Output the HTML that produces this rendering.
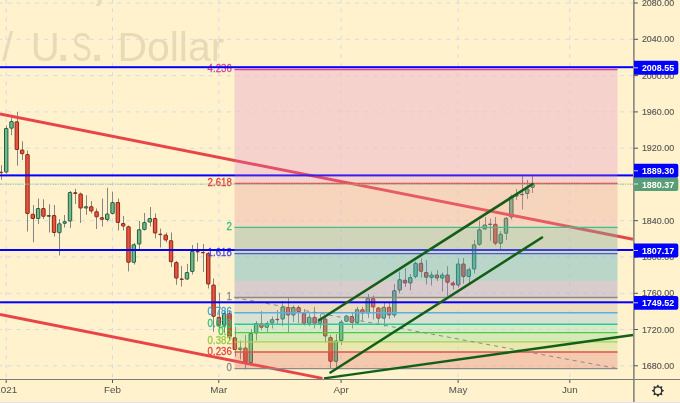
<!DOCTYPE html>
<html><head><meta charset="utf-8"><title>XAUUSD chart</title>
<style>
html,body{margin:0;padding:0;background:#fff2cc;overflow:hidden;}
svg{display:block;will-change:transform;}
text{font-family:"Liberation Sans",Arial,sans-serif;}
</style></head><body>
<svg width="680" height="403" viewBox="0 0 680 403">
<rect width="680" height="403" fill="#fff2cc"/>
<g fill="#e7dbb7" class="wm" font-size="40">
<text x="104.8" y="-1.2" text-anchor="end" font-weight="bold" font-size="44">XAUUSD,</text>
<text x="2" y="61.2">/</text>
<text x="30.8" y="61.2">U</text>
<text x="57.8" y="61.2" font-weight="bold">.</text>
<text x="72" y="61.2" textLength="19.7" lengthAdjust="spacingAndGlyphs">S</text>
<text x="91.6" y="61.2" font-weight="bold">.</text>
<text x="117.4" y="61" textLength="107" lengthAdjust="spacingAndGlyphs">Dollar</text>
</g>
<line x1="0" y1="3.0" x2="633.4" y2="3.0" stroke="#d6d9e6" stroke-width="1" stroke-dasharray="4 5.145" stroke-dashoffset="1.73"/>
<line x1="0" y1="39.3" x2="633.4" y2="39.3" stroke="#d6d9e6" stroke-width="1" stroke-dasharray="4 5.145" stroke-dashoffset="1.73"/>
<line x1="0" y1="75.6" x2="633.4" y2="75.6" stroke="#d6d9e6" stroke-width="1" stroke-dasharray="4 5.145" stroke-dashoffset="1.73"/>
<line x1="0" y1="111.9" x2="633.4" y2="111.9" stroke="#d6d9e6" stroke-width="1" stroke-dasharray="4 5.145" stroke-dashoffset="1.73"/>
<line x1="0" y1="148.2" x2="633.4" y2="148.2" stroke="#d6d9e6" stroke-width="1" stroke-dasharray="4 5.145" stroke-dashoffset="1.73"/>
<line x1="0" y1="184.4" x2="633.4" y2="184.4" stroke="#d6d9e6" stroke-width="1" stroke-dasharray="4 5.145" stroke-dashoffset="1.73"/>
<line x1="0" y1="220.7" x2="633.4" y2="220.7" stroke="#d6d9e6" stroke-width="1" stroke-dasharray="4 5.145" stroke-dashoffset="1.73"/>
<line x1="0" y1="257.0" x2="633.4" y2="257.0" stroke="#d6d9e6" stroke-width="1" stroke-dasharray="4 5.145" stroke-dashoffset="1.73"/>
<line x1="0" y1="293.3" x2="633.4" y2="293.3" stroke="#d6d9e6" stroke-width="1" stroke-dasharray="4 5.145" stroke-dashoffset="1.73"/>
<line x1="0" y1="329.5" x2="633.4" y2="329.5" stroke="#d6d9e6" stroke-width="1" stroke-dasharray="4 5.145" stroke-dashoffset="1.73"/>
<line x1="0" y1="365.8" x2="633.4" y2="365.8" stroke="#d6d9e6" stroke-width="1" stroke-dasharray="4 5.145" stroke-dashoffset="1.73"/>
<line x1="6.2" y1="0" x2="6.2" y2="379.0" stroke="#d6d9e6" stroke-width="1" stroke-dasharray="4 5.13" stroke-dashoffset="0.76"/>
<line x1="112.5" y1="0" x2="112.5" y2="379.0" stroke="#d6d9e6" stroke-width="1" stroke-dasharray="4 5.13" stroke-dashoffset="0.76"/>
<line x1="218.8" y1="0" x2="218.8" y2="379.0" stroke="#d6d9e6" stroke-width="1" stroke-dasharray="4 5.13" stroke-dashoffset="0.76"/>
<line x1="341.1" y1="0" x2="341.1" y2="379.0" stroke="#d6d9e6" stroke-width="1" stroke-dasharray="4 5.13" stroke-dashoffset="0.76"/>
<line x1="458.1" y1="0" x2="458.1" y2="379.0" stroke="#d6d9e6" stroke-width="1" stroke-dasharray="4 5.13" stroke-dashoffset="0.76"/>
<line x1="569.8" y1="0" x2="569.8" y2="379.0" stroke="#d6d9e6" stroke-width="1" stroke-dasharray="4 5.13" stroke-dashoffset="0.76"/>
<rect x="234.5" y="69.5" width="383" height="114" fill="#fff2cc" opacity="0.55"/>
<rect x="234.5" y="183.5" width="383" height="185.1" fill="#fff2cc" opacity="0.3"/>
<rect x="1.00" y="165.2" width="1" height="14.5" fill="#878583"/>
<rect x="-0.82" y="172.2" width="3.4" height="0.4" rx="0.4" fill="#e8553e" stroke="#8a2516" stroke-width="1"/>
<rect x="6.00" y="125.6" width="1" height="47.9" fill="#878583"/>
<rect x="4.50" y="128.5" width="3.4" height="43.5" rx="0.4" fill="#6fb88e" stroke="#22603d" stroke-width="1"/>
<rect x="11.00" y="118.0" width="1" height="17.2" fill="#878583"/>
<rect x="9.82" y="121.5" width="3.4" height="6.7" rx="0.4" fill="#6fb88e" stroke="#22603d" stroke-width="1"/>
<rect x="17.00" y="112.0" width="1" height="53.8" fill="#878583"/>
<rect x="15.13" y="121.8" width="3.4" height="27.7" rx="0.4" fill="#e8553e" stroke="#8a2516" stroke-width="1"/>
<rect x="22.00" y="141.2" width="1" height="18.8" fill="#878583"/>
<rect x="20.45" y="150.0" width="3.4" height="3.7" rx="0.4" fill="#e8553e" stroke="#8a2516" stroke-width="1"/>
<rect x="27.00" y="150.5" width="1" height="81.0" fill="#878583"/>
<rect x="25.77" y="154.5" width="3.4" height="59.0" rx="0.4" fill="#e8553e" stroke="#8a2516" stroke-width="1"/>
<rect x="33.00" y="205.0" width="1" height="37.2" fill="#878583"/>
<rect x="31.09" y="214.3" width="3.4" height="4.2" rx="0.4" fill="#e8553e" stroke="#8a2516" stroke-width="1"/>
<rect x="38.00" y="198.5" width="1" height="25.5" fill="#878583"/>
<rect x="36.40" y="208.5" width="3.4" height="10.0" rx="0.4" fill="#6fb88e" stroke="#22603d" stroke-width="1"/>
<rect x="43.00" y="199.3" width="1" height="19.7" fill="#878583"/>
<rect x="41.72" y="208.5" width="3.4" height="7.8" rx="0.4" fill="#e8553e" stroke="#8a2516" stroke-width="1"/>
<rect x="49.00" y="204.2" width="1" height="28.3" fill="#878583"/>
<rect x="47.04" y="215.5" width="3.4" height="0.8" rx="0.4" fill="#6fb88e" stroke="#22603d" stroke-width="1"/>
<rect x="54.00" y="205.0" width="1" height="31.5" fill="#878583"/>
<rect x="52.35" y="215.5" width="3.4" height="17.0" rx="0.4" fill="#e8553e" stroke="#8a2516" stroke-width="1"/>
<rect x="59.00" y="219.0" width="1" height="36.5" fill="#878583"/>
<rect x="57.67" y="223.8" width="3.4" height="8.9" rx="0.4" fill="#6fb88e" stroke="#22603d" stroke-width="1"/>
<rect x="64.00" y="215.0" width="1" height="12.5" fill="#878583"/>
<rect x="62.99" y="221.7" width="3.4" height="1.6" rx="0.4" fill="#6fb88e" stroke="#22603d" stroke-width="1"/>
<rect x="70.00" y="191.0" width="1" height="37.0" fill="#878583"/>
<rect x="68.30" y="192.5" width="3.4" height="28.5" rx="0.4" fill="#6fb88e" stroke="#22603d" stroke-width="1"/>
<rect x="75.00" y="188.8" width="1" height="15.2" fill="#878583"/>
<rect x="73.62" y="192.7" width="3.4" height="0.8" rx="0.4" fill="#e8553e" stroke="#8a2516" stroke-width="1"/>
<rect x="80.00" y="192.5" width="1" height="30.5" fill="#878583"/>
<rect x="78.94" y="194.0" width="3.4" height="14.0" rx="0.4" fill="#e8553e" stroke="#8a2516" stroke-width="1"/>
<rect x="86.00" y="195.2" width="1" height="19.6" fill="#878583"/>
<rect x="84.25" y="206.7" width="3.4" height="1.3" rx="0.4" fill="#6fb88e" stroke="#22603d" stroke-width="1"/>
<rect x="91.00" y="201.0" width="1" height="12.3" fill="#878583"/>
<rect x="89.57" y="206.7" width="3.4" height="4.3" rx="0.4" fill="#e8553e" stroke="#8a2516" stroke-width="1"/>
<rect x="96.00" y="208.5" width="1" height="20.5" fill="#878583"/>
<rect x="94.89" y="211.7" width="3.4" height="5.1" rx="0.4" fill="#e8553e" stroke="#8a2516" stroke-width="1"/>
<rect x="102.00" y="198.5" width="1" height="28.0" fill="#878583"/>
<rect x="100.21" y="217.7" width="3.4" height="1.6" rx="0.4" fill="#e8553e" stroke="#8a2516" stroke-width="1"/>
<rect x="107.00" y="187.8" width="1" height="33.7" fill="#878583"/>
<rect x="105.52" y="214.0" width="3.4" height="5.5" rx="0.4" fill="#6fb88e" stroke="#22603d" stroke-width="1"/>
<rect x="112.00" y="191.8" width="1" height="22.7" fill="#878583"/>
<rect x="110.84" y="202.5" width="3.4" height="11.0" rx="0.4" fill="#6fb88e" stroke="#22603d" stroke-width="1"/>
<rect x="118.00" y="198.5" width="1" height="32.0" fill="#878583"/>
<rect x="116.16" y="202.5" width="3.4" height="20.0" rx="0.4" fill="#e8553e" stroke="#8a2516" stroke-width="1"/>
<rect x="123.00" y="216.0" width="1" height="14.5" fill="#878583"/>
<rect x="121.47" y="223.5" width="3.4" height="2.5" rx="0.4" fill="#e8553e" stroke="#8a2516" stroke-width="1"/>
<rect x="128.00" y="225.5" width="1" height="46.0" fill="#878583"/>
<rect x="126.79" y="226.7" width="3.4" height="35.6" rx="0.4" fill="#e8553e" stroke="#8a2516" stroke-width="1"/>
<rect x="134.00" y="243.0" width="1" height="21.5" fill="#878583"/>
<rect x="132.11" y="244.7" width="3.4" height="17.6" rx="0.4" fill="#6fb88e" stroke="#22603d" stroke-width="1"/>
<rect x="139.00" y="221.0" width="1" height="28.0" fill="#878583"/>
<rect x="137.43" y="229.7" width="3.4" height="14.3" rx="0.4" fill="#6fb88e" stroke="#22603d" stroke-width="1"/>
<rect x="144.00" y="213.0" width="1" height="17.5" fill="#878583"/>
<rect x="142.74" y="222.5" width="3.4" height="7.0" rx="0.4" fill="#6fb88e" stroke="#22603d" stroke-width="1"/>
<rect x="150.00" y="207.0" width="1" height="19.5" fill="#878583"/>
<rect x="148.06" y="218.5" width="3.4" height="3.5" rx="0.4" fill="#6fb88e" stroke="#22603d" stroke-width="1"/>
<rect x="155.00" y="213.5" width="1" height="25.0" fill="#878583"/>
<rect x="153.38" y="218.5" width="3.4" height="14.5" rx="0.4" fill="#e8553e" stroke="#8a2516" stroke-width="1"/>
<rect x="160.00" y="228.5" width="1" height="19.0" fill="#878583"/>
<rect x="158.69" y="234.2" width="3.4" height="0.4" rx="0.4" fill="#e8553e" stroke="#8a2516" stroke-width="1"/>
<rect x="166.00" y="232.5" width="1" height="10.0" fill="#878583"/>
<rect x="164.01" y="235.0" width="3.4" height="5.0" rx="0.4" fill="#e8553e" stroke="#8a2516" stroke-width="1"/>
<rect x="171.00" y="232.5" width="1" height="34.5" fill="#878583"/>
<rect x="169.33" y="240.7" width="3.4" height="21.0" rx="0.4" fill="#e8553e" stroke="#8a2516" stroke-width="1"/>
<rect x="176.00" y="261.0" width="1" height="23.8" fill="#878583"/>
<rect x="174.64" y="262.5" width="3.4" height="15.6" rx="0.4" fill="#e8553e" stroke="#8a2516" stroke-width="1"/>
<rect x="181.00" y="266.0" width="1" height="20.5" fill="#878583"/>
<rect x="179.96" y="279.0" width="3.4" height="0.4" rx="0.4" fill="#e8553e" stroke="#8a2516" stroke-width="1"/>
<rect x="187.00" y="264.0" width="1" height="16.0" fill="#878583"/>
<rect x="185.28" y="272.5" width="3.4" height="6.5" rx="0.4" fill="#6fb88e" stroke="#22603d" stroke-width="1"/>
<rect x="192.00" y="245.0" width="1" height="29.5" fill="#878583"/>
<rect x="190.59" y="251.5" width="3.4" height="20.0" rx="0.4" fill="#6fb88e" stroke="#22603d" stroke-width="1"/>
<rect x="197.00" y="242.8" width="1" height="18.7" fill="#878583"/>
<rect x="195.91" y="251.5" width="3.4" height="0.4" rx="0.4" fill="#e8553e" stroke="#8a2516" stroke-width="1"/>
<rect x="203.00" y="244.0" width="1" height="28.0" fill="#878583"/>
<rect x="201.23" y="252.4" width="3.4" height="0.4" rx="0.4" fill="#e8553e" stroke="#8a2516" stroke-width="1"/>
<rect x="208.00" y="252.0" width="1" height="36.5" fill="#878583"/>
<rect x="206.55" y="253.5" width="3.4" height="30.5" rx="0.4" fill="#e8553e" stroke="#8a2516" stroke-width="1"/>
<rect x="213.00" y="278.5" width="1" height="53.2" fill="#878583"/>
<rect x="211.86" y="285.0" width="3.4" height="31.3" rx="0.4" fill="#e8553e" stroke="#8a2516" stroke-width="1"/>
<rect x="219.00" y="293.0" width="1" height="35.0" fill="#878583"/>
<rect x="217.18" y="317.3" width="3.4" height="7.9" rx="0.4" fill="#e8553e" stroke="#8a2516" stroke-width="1"/>
<rect x="224.00" y="311.0" width="1" height="22.0" fill="#878583"/>
<rect x="222.50" y="313.5" width="3.4" height="11.7" rx="0.4" fill="#6fb88e" stroke="#22603d" stroke-width="1"/>
<rect x="229.00" y="311.0" width="1" height="29.0" fill="#878583"/>
<rect x="227.81" y="313.5" width="3.4" height="23.3" rx="0.4" fill="#e8553e" stroke="#8a2516" stroke-width="1"/>
<rect x="235.00" y="326.5" width="1" height="30.0" fill="#878583"/>
<rect x="233.13" y="337.8" width="3.4" height="11.7" rx="0.4" fill="#e8553e" stroke="#8a2516" stroke-width="1"/>
<rect x="240.00" y="340.5" width="1" height="19.0" fill="#878583"/>
<rect x="238.45" y="348.0" width="3.4" height="1.5" rx="0.4" fill="#6fb88e" stroke="#22603d" stroke-width="1"/>
<rect x="245.00" y="335.0" width="1" height="34.5" fill="#878583"/>
<rect x="243.77" y="348.0" width="3.4" height="14.0" rx="0.4" fill="#e8553e" stroke="#8a2516" stroke-width="1"/>
<rect x="251.00" y="329.0" width="1" height="35.0" fill="#878583"/>
<rect x="249.08" y="333.5" width="3.4" height="29.0" rx="0.4" fill="#6fb88e" stroke="#22603d" stroke-width="1"/>
<rect x="256.00" y="321.0" width="1" height="19.5" fill="#878583"/>
<rect x="254.40" y="323.5" width="3.4" height="9.5" rx="0.4" fill="#6fb88e" stroke="#22603d" stroke-width="1"/>
<rect x="261.00" y="311.0" width="1" height="19.5" fill="#878583"/>
<rect x="259.72" y="323.7" width="3.4" height="3.6" rx="0.4" fill="#e8553e" stroke="#8a2516" stroke-width="1"/>
<rect x="267.00" y="321.0" width="1" height="12.0" fill="#878583"/>
<rect x="265.03" y="323.5" width="3.4" height="3.8" rx="0.4" fill="#6fb88e" stroke="#22603d" stroke-width="1"/>
<rect x="272.00" y="316.5" width="1" height="12.0" fill="#878583"/>
<rect x="270.35" y="319.7" width="3.4" height="3.3" rx="0.4" fill="#6fb88e" stroke="#22603d" stroke-width="1"/>
<rect x="277.00" y="310.0" width="1" height="14.0" fill="#878583"/>
<rect x="275.67" y="319.3" width="3.4" height="0.4" rx="0.4" fill="#e8553e" stroke="#8a2516" stroke-width="1"/>
<rect x="282.00" y="301.0" width="1" height="25.0" fill="#878583"/>
<rect x="280.98" y="307.0" width="3.4" height="12.0" rx="0.4" fill="#6fb88e" stroke="#22603d" stroke-width="1"/>
<rect x="288.00" y="298.0" width="1" height="35.0" fill="#878583"/>
<rect x="286.30" y="307.5" width="3.4" height="7.5" rx="0.4" fill="#e8553e" stroke="#8a2516" stroke-width="1"/>
<rect x="293.00" y="305.5" width="1" height="16.5" fill="#878583"/>
<rect x="291.62" y="307.5" width="3.4" height="7.5" rx="0.4" fill="#6fb88e" stroke="#22603d" stroke-width="1"/>
<rect x="298.00" y="305.5" width="1" height="17.5" fill="#878583"/>
<rect x="296.94" y="307.5" width="3.4" height="4.2" rx="0.4" fill="#e8553e" stroke="#8a2516" stroke-width="1"/>
<rect x="304.00" y="309.0" width="1" height="16.5" fill="#878583"/>
<rect x="302.25" y="313.5" width="3.4" height="9.8" rx="0.4" fill="#e8553e" stroke="#8a2516" stroke-width="1"/>
<rect x="309.00" y="313.5" width="1" height="12.7" fill="#878583"/>
<rect x="307.57" y="317.3" width="3.4" height="6.0" rx="0.4" fill="#6fb88e" stroke="#22603d" stroke-width="1"/>
<rect x="314.00" y="306.8" width="1" height="21.7" fill="#878583"/>
<rect x="312.89" y="317.3" width="3.4" height="6.0" rx="0.4" fill="#e8553e" stroke="#8a2516" stroke-width="1"/>
<rect x="320.00" y="314.0" width="1" height="14.5" fill="#878583"/>
<rect x="318.20" y="319.0" width="3.4" height="4.3" rx="0.4" fill="#6fb88e" stroke="#22603d" stroke-width="1"/>
<rect x="325.00" y="317.0" width="1" height="25.5" fill="#878583"/>
<rect x="323.52" y="319.0" width="3.4" height="17.0" rx="0.4" fill="#e8553e" stroke="#8a2516" stroke-width="1"/>
<rect x="330.00" y="335.0" width="1" height="33.0" fill="#878583"/>
<rect x="328.84" y="337.5" width="3.4" height="23.8" rx="0.4" fill="#e8553e" stroke="#8a2516" stroke-width="1"/>
<rect x="336.00" y="334.0" width="1" height="33.8" fill="#878583"/>
<rect x="334.15" y="341.0" width="3.4" height="20.3" rx="0.4" fill="#6fb88e" stroke="#22603d" stroke-width="1"/>
<rect x="341.00" y="320.0" width="1" height="25.0" fill="#878583"/>
<rect x="339.47" y="322.0" width="3.4" height="18.5" rx="0.4" fill="#6fb88e" stroke="#22603d" stroke-width="1"/>
<rect x="346.00" y="315.0" width="1" height="7.0" fill="#878583"/>
<rect x="344.79" y="316.0" width="3.4" height="5.3" rx="0.4" fill="#6fb88e" stroke="#22603d" stroke-width="1"/>
<rect x="352.00" y="313.0" width="1" height="15.5" fill="#878583"/>
<rect x="350.11" y="316.5" width="3.4" height="5.8" rx="0.4" fill="#e8553e" stroke="#8a2516" stroke-width="1"/>
<rect x="357.00" y="306.8" width="1" height="17.2" fill="#878583"/>
<rect x="355.42" y="309.7" width="3.4" height="13.0" rx="0.4" fill="#6fb88e" stroke="#22603d" stroke-width="1"/>
<rect x="362.00" y="306.8" width="1" height="14.2" fill="#878583"/>
<rect x="360.74" y="309.7" width="3.4" height="3.3" rx="0.4" fill="#e8553e" stroke="#8a2516" stroke-width="1"/>
<rect x="368.00" y="294.0" width="1" height="24.0" fill="#878583"/>
<rect x="366.06" y="298.5" width="3.4" height="14.5" rx="0.4" fill="#6fb88e" stroke="#22603d" stroke-width="1"/>
<rect x="373.00" y="295.5" width="1" height="24.0" fill="#878583"/>
<rect x="371.37" y="298.5" width="3.4" height="8.5" rx="0.4" fill="#e8553e" stroke="#8a2516" stroke-width="1"/>
<rect x="378.00" y="307.0" width="1" height="16.0" fill="#878583"/>
<rect x="376.69" y="308.0" width="3.4" height="10.2" rx="0.4" fill="#e8553e" stroke="#8a2516" stroke-width="1"/>
<rect x="384.00" y="303.0" width="1" height="23.5" fill="#878583"/>
<rect x="382.01" y="307.3" width="3.4" height="10.9" rx="0.4" fill="#6fb88e" stroke="#22603d" stroke-width="1"/>
<rect x="389.00" y="303.0" width="1" height="16.0" fill="#878583"/>
<rect x="387.32" y="307.3" width="3.4" height="7.7" rx="0.4" fill="#e8553e" stroke="#8a2516" stroke-width="1"/>
<rect x="394.00" y="284.0" width="1" height="33.5" fill="#878583"/>
<rect x="392.64" y="290.7" width="3.4" height="24.3" rx="0.4" fill="#6fb88e" stroke="#22603d" stroke-width="1"/>
<rect x="399.00" y="271.5" width="1" height="22.0" fill="#878583"/>
<rect x="397.96" y="279.7" width="3.4" height="10.3" rx="0.4" fill="#6fb88e" stroke="#22603d" stroke-width="1"/>
<rect x="405.00" y="268.0" width="1" height="19.0" fill="#878583"/>
<rect x="403.28" y="280.3" width="3.4" height="2.7" rx="0.4" fill="#e8553e" stroke="#8a2516" stroke-width="1"/>
<rect x="410.00" y="274.0" width="1" height="16.5" fill="#878583"/>
<rect x="408.59" y="277.5" width="3.4" height="5.5" rx="0.4" fill="#6fb88e" stroke="#22603d" stroke-width="1"/>
<rect x="415.00" y="261.5" width="1" height="17.0" fill="#878583"/>
<rect x="413.91" y="263.3" width="3.4" height="13.2" rx="0.4" fill="#6fb88e" stroke="#22603d" stroke-width="1"/>
<rect x="421.00" y="258.5" width="1" height="19.0" fill="#878583"/>
<rect x="419.23" y="263.3" width="3.4" height="8.0" rx="0.4" fill="#e8553e" stroke="#8a2516" stroke-width="1"/>
<rect x="426.00" y="260.0" width="1" height="24.5" fill="#878583"/>
<rect x="424.54" y="272.5" width="3.4" height="4.7" rx="0.4" fill="#e8553e" stroke="#8a2516" stroke-width="1"/>
<rect x="431.00" y="271.5" width="1" height="14.0" fill="#878583"/>
<rect x="429.86" y="275.0" width="3.4" height="2.5" rx="0.4" fill="#6fb88e" stroke="#22603d" stroke-width="1"/>
<rect x="437.00" y="270.0" width="1" height="11.0" fill="#878583"/>
<rect x="435.18" y="275.0" width="3.4" height="3.0" rx="0.4" fill="#e8553e" stroke="#8a2516" stroke-width="1"/>
<rect x="442.00" y="272.5" width="1" height="19.0" fill="#878583"/>
<rect x="440.49" y="275.0" width="3.4" height="3.0" rx="0.4" fill="#6fb88e" stroke="#22603d" stroke-width="1"/>
<rect x="447.00" y="266.2" width="1" height="29.8" fill="#878583"/>
<rect x="445.81" y="275.0" width="3.4" height="7.3" rx="0.4" fill="#e8553e" stroke="#8a2516" stroke-width="1"/>
<rect x="453.00" y="281.0" width="1" height="8.5" fill="#878583"/>
<rect x="451.13" y="283.0" width="3.4" height="2.0" rx="0.4" fill="#e8553e" stroke="#8a2516" stroke-width="1"/>
<rect x="458.00" y="258.5" width="1" height="29.0" fill="#878583"/>
<rect x="456.44" y="264.0" width="3.4" height="21.0" rx="0.4" fill="#6fb88e" stroke="#22603d" stroke-width="1"/>
<rect x="463.00" y="258.0" width="1" height="25.5" fill="#878583"/>
<rect x="461.76" y="264.0" width="3.4" height="12.5" rx="0.4" fill="#e8553e" stroke="#8a2516" stroke-width="1"/>
<rect x="469.00" y="267.5" width="1" height="15.5" fill="#878583"/>
<rect x="467.08" y="269.7" width="3.4" height="6.8" rx="0.4" fill="#6fb88e" stroke="#22603d" stroke-width="1"/>
<rect x="474.00" y="240.0" width="1" height="33.5" fill="#878583"/>
<rect x="472.40" y="244.8" width="3.4" height="24.2" rx="0.4" fill="#6fb88e" stroke="#22603d" stroke-width="1"/>
<rect x="479.00" y="220.5" width="1" height="25.3" fill="#878583"/>
<rect x="477.71" y="229.7" width="3.4" height="14.6" rx="0.4" fill="#6fb88e" stroke="#22603d" stroke-width="1"/>
<rect x="485.00" y="217.0" width="1" height="12.5" fill="#878583"/>
<rect x="483.03" y="225.0" width="3.4" height="4.0" rx="0.4" fill="#6fb88e" stroke="#22603d" stroke-width="1"/>
<rect x="490.00" y="218.5" width="1" height="22.2" fill="#878583"/>
<rect x="488.35" y="224.1" width="3.4" height="0.4" rx="0.4" fill="#6fb88e" stroke="#22603d" stroke-width="1"/>
<rect x="495.00" y="217.0" width="1" height="28.3" fill="#878583"/>
<rect x="493.66" y="224.3" width="3.4" height="18.9" rx="0.4" fill="#e8553e" stroke="#8a2516" stroke-width="1"/>
<rect x="500.00" y="231.0" width="1" height="18.0" fill="#878583"/>
<rect x="498.98" y="234.2" width="3.4" height="9.1" rx="0.4" fill="#6fb88e" stroke="#22603d" stroke-width="1"/>
<rect x="506.00" y="217.0" width="1" height="23.0" fill="#878583"/>
<rect x="504.30" y="218.3" width="3.4" height="14.9" rx="0.4" fill="#6fb88e" stroke="#22603d" stroke-width="1"/>
<rect x="511.00" y="194.5" width="1" height="25.0" fill="#878583"/>
<rect x="509.62" y="196.7" width="3.4" height="20.3" rx="0.4" fill="#6fb88e" stroke="#22603d" stroke-width="1"/>
<rect x="516.00" y="189.0" width="1" height="11.0" fill="#878583"/>
<rect x="514.93" y="195.5" width="3.4" height="0.5" rx="0.4" fill="#6fb88e" stroke="#22603d" stroke-width="1"/>
<rect x="522.00" y="176.0" width="1" height="33.5" fill="#878583"/>
<rect x="520.25" y="194.3" width="3.4" height="0.4" rx="0.4" fill="#6fb88e" stroke="#22603d" stroke-width="1"/>
<rect x="527.00" y="180.0" width="1" height="19.0" fill="#878583"/>
<rect x="525.57" y="189.0" width="3.4" height="4.5" rx="0.4" fill="#6fb88e" stroke="#22603d" stroke-width="1"/>
<rect x="532.00" y="176.0" width="1" height="17.0" fill="#878583"/>
<rect x="530.88" y="184.5" width="3.4" height="2.8" rx="0.4" fill="#6fb88e" stroke="#22603d" stroke-width="1"/>
<text x="231.8" y="72.0" fill="#d63f9c" stroke="#d63f9c" stroke-width="0.28" font-size="10.8" text-anchor="end" textLength="24.20" lengthAdjust="spacingAndGlyphs" class="lbl">4.236</text>
<text x="231.8" y="186.0" fill="#e03a3a" stroke="#e03a3a" stroke-width="0.28" font-size="10.8" text-anchor="end" textLength="24.20" lengthAdjust="spacingAndGlyphs" class="lbl">2.618</text>
<text x="231.8" y="229.9" fill="#2fb882" stroke="#2fb882" stroke-width="0.28" font-size="10.8" text-anchor="end" textLength="5.38" lengthAdjust="spacingAndGlyphs" class="lbl">2</text>
<text x="231.8" y="256.1" fill="#4a4ad8" stroke="#4a4ad8" stroke-width="0.28" font-size="10.8" text-anchor="end" textLength="24.20" lengthAdjust="spacingAndGlyphs" class="lbl">1.618</text>
<text x="231.8" y="300.0" fill="#8a8a8a" stroke="#8a8a8a" stroke-width="0.28" font-size="10.8" text-anchor="end" textLength="5.38" lengthAdjust="spacingAndGlyphs" class="lbl">1</text>
<text x="231.8" y="315.2" fill="#3a9fdc" stroke="#3a9fdc" stroke-width="0.28" font-size="10.8" text-anchor="end" textLength="24.20" lengthAdjust="spacingAndGlyphs" class="lbl">0.786</text>
<text x="231.8" y="326.8" fill="#22c08c" stroke="#22c08c" stroke-width="0.28" font-size="10.8" text-anchor="end" textLength="24.20" lengthAdjust="spacingAndGlyphs" class="lbl">0.618</text>
<text x="231.8" y="335.1" fill="#2ec82e" stroke="#2ec82e" stroke-width="0.28" font-size="10.8" text-anchor="end" textLength="13.44" lengthAdjust="spacingAndGlyphs" class="lbl">0.5</text>
<text x="231.8" y="344.4" fill="#98c840" stroke="#98c840" stroke-width="0.28" font-size="10.8" text-anchor="end" textLength="24.20" lengthAdjust="spacingAndGlyphs" class="lbl">0.382</text>
<text x="231.8" y="354.5" fill="#e04040" stroke="#e04040" stroke-width="0.28" font-size="10.8" text-anchor="end" textLength="24.20" lengthAdjust="spacingAndGlyphs" class="lbl">0.236</text>
<text x="231.8" y="371.1" fill="#8a8a8a" stroke="#8a8a8a" stroke-width="0.28" font-size="10.8" text-anchor="end" textLength="5.38" lengthAdjust="spacingAndGlyphs" class="lbl">0</text>
<line x1="0" y1="114" x2="633" y2="239.3" stroke="#e94549" stroke-width="3"/>
<line x1="0" y1="314.5" x2="322.5" y2="378.4" stroke="#e94549" stroke-width="3"/>
<rect x="0" y="174.4" width="633" height="2" fill="#0000ff"/>
<rect x="0" y="249.0" width="633" height="2" fill="#0000ff"/>
<rect x="234.5" y="69.5" width="383.0" height="114.0" fill="rgba(215,114,200,0.25)"/>
<rect x="234.5" y="183.5" width="383.0" height="43.9" fill="rgba(228,145,154,0.30)"/>
<rect x="234.5" y="227.4" width="383.0" height="26.2" fill="rgba(138,167,154,0.40)"/>
<rect x="234.5" y="253.6" width="383.0" height="27.2" fill="rgba(80,172,194,0.40)"/>
<rect x="234.5" y="280.8" width="383.0" height="16.7" fill="rgba(144,136,204,0.35)"/>
<rect x="234.5" y="297.5" width="383.0" height="15.2" fill="rgba(192,169,164,0.30)"/>
<rect x="234.5" y="312.7" width="383.0" height="11.6" fill="rgba(128,189,224,0.30)"/>
<rect x="234.5" y="324.3" width="383.0" height="8.3" fill="rgba(115,219,191,0.30)"/>
<rect x="234.5" y="332.6" width="383.0" height="9.3" fill="rgba(118,215,137,0.30)"/>
<rect x="234.5" y="341.9" width="383.0" height="10.1" fill="rgba(182,209,117,0.30)"/>
<rect x="234.5" y="352.0" width="383.0" height="16.6" fill="rgba(222,105,104,0.30)"/>
<line x1="234.5" y1="69.5" x2="617.5" y2="69.5" stroke="#e0409a" stroke-width="1.4"/>
<line x1="234.5" y1="183.5" x2="617.5" y2="183.5" stroke="#e04848" stroke-width="1.4"/>
<line x1="234.5" y1="227.4" x2="617.5" y2="227.4" stroke="#40c090" stroke-width="1.4"/>
<line x1="234.5" y1="253.6" x2="617.5" y2="253.6" stroke="#4a5ad8" stroke-width="1.4"/>
<line x1="234.5" y1="297.5" x2="617.5" y2="297.5" stroke="#8a8a8a" stroke-width="1.4"/>
<line x1="234.5" y1="312.7" x2="617.5" y2="312.7" stroke="#5aaee0" stroke-width="1.4"/>
<line x1="234.5" y1="324.3" x2="617.5" y2="324.3" stroke="#30c890" stroke-width="1.4"/>
<line x1="234.5" y1="332.6" x2="617.5" y2="332.6" stroke="#50c848" stroke-width="1.4"/>
<line x1="234.5" y1="341.9" x2="617.5" y2="341.9" stroke="#a8d050" stroke-width="1.4"/>
<line x1="234.5" y1="352.0" x2="617.5" y2="352.0" stroke="#e05050" stroke-width="1.4"/>
<line x1="234.5" y1="368.6" x2="617.5" y2="368.6" stroke="#8a8a8a" stroke-width="1.4"/>
<line x1="234.5" y1="297.5" x2="617.5" y2="368.6" stroke="#8a8a8a" stroke-width="1" stroke-dasharray="4 4"/>
<rect x="0" y="66.2" width="633" height="2" fill="#0000ff"/>
<rect x="0" y="301.3" width="633" height="2" fill="#0000ff"/>
<line x1="0" y1="184.1" x2="633.5" y2="184.1" stroke="#98c6a2" stroke-width="1.2" stroke-dasharray="1.25 1.25"/>
<line x1="319.5" y1="320" x2="532.5" y2="184" stroke="#135f17" stroke-width="2.6" stroke-linecap="round"/>
<line x1="330.5" y1="372.5" x2="542" y2="237.5" stroke="#135f17" stroke-width="2.6" stroke-linecap="round"/>
<line x1="324" y1="378.3" x2="633" y2="335.0" stroke="#135f17" stroke-width="2.3"/>
<rect x="633" y="0" width="47" height="403" fill="#fff2cc"/>
<rect x="0" y="379" width="680" height="24" fill="#fff2cc"/>
<line x1="633.9" y1="0" x2="633.9" y2="403" stroke="#6c6c6c" stroke-width="1.3"/>
<line x1="0" y1="379.5" x2="680" y2="379.5" stroke="#7b7b7b" stroke-width="1"/>
<rect x="0" y="402" width="680" height="1" fill="#e3e3e3"/>
<line x1="634" y1="3.0" x2="638" y2="3.0" stroke="#555" stroke-width="1"/>
<text x="641.9" y="6.0" fill="#585858" stroke="#585858" stroke-width="0.15" font-size="9.7" textLength="32.3" lengthAdjust="spacingAndGlyphs" class="ax">2080.00</text>
<line x1="634" y1="39.3" x2="638" y2="39.3" stroke="#555" stroke-width="1"/>
<text x="641.9" y="42.3" fill="#585858" stroke="#585858" stroke-width="0.15" font-size="9.7" textLength="32.3" lengthAdjust="spacingAndGlyphs" class="ax">2040.00</text>
<line x1="634" y1="75.6" x2="638" y2="75.6" stroke="#555" stroke-width="1"/>
<text x="641.9" y="78.6" fill="#585858" stroke="#585858" stroke-width="0.15" font-size="9.7" textLength="32.3" lengthAdjust="spacingAndGlyphs" class="ax">2000.00</text>
<line x1="634" y1="111.9" x2="638" y2="111.9" stroke="#555" stroke-width="1"/>
<text x="641.9" y="115.0" fill="#585858" stroke="#585858" stroke-width="0.15" font-size="9.7" textLength="32.3" lengthAdjust="spacingAndGlyphs" class="ax">1960.00</text>
<line x1="634" y1="148.2" x2="638" y2="148.2" stroke="#555" stroke-width="1"/>
<text x="641.9" y="151.2" fill="#585858" stroke="#585858" stroke-width="0.15" font-size="9.7" textLength="32.3" lengthAdjust="spacingAndGlyphs" class="ax">1920.00</text>
<line x1="634" y1="184.4" x2="638" y2="184.4" stroke="#555" stroke-width="1"/>
<text x="641.9" y="187.5" fill="#585858" stroke="#585858" stroke-width="0.15" font-size="9.7" textLength="32.3" lengthAdjust="spacingAndGlyphs" class="ax">1880.00</text>
<line x1="634" y1="220.7" x2="638" y2="220.7" stroke="#555" stroke-width="1"/>
<text x="641.9" y="223.8" fill="#585858" stroke="#585858" stroke-width="0.15" font-size="9.7" textLength="32.3" lengthAdjust="spacingAndGlyphs" class="ax">1840.00</text>
<line x1="634" y1="257.0" x2="638" y2="257.0" stroke="#555" stroke-width="1"/>
<text x="641.9" y="260.1" fill="#585858" stroke="#585858" stroke-width="0.15" font-size="9.7" textLength="32.3" lengthAdjust="spacingAndGlyphs" class="ax">1800.00</text>
<line x1="634" y1="293.3" x2="638" y2="293.3" stroke="#555" stroke-width="1"/>
<text x="641.9" y="296.4" fill="#585858" stroke="#585858" stroke-width="0.15" font-size="9.7" textLength="32.3" lengthAdjust="spacingAndGlyphs" class="ax">1760.00</text>
<line x1="634" y1="329.5" x2="638" y2="329.5" stroke="#555" stroke-width="1"/>
<text x="641.9" y="332.6" fill="#585858" stroke="#585858" stroke-width="0.15" font-size="9.7" textLength="32.3" lengthAdjust="spacingAndGlyphs" class="ax">1720.00</text>
<line x1="634" y1="365.8" x2="638" y2="365.8" stroke="#555" stroke-width="1"/>
<text x="641.9" y="368.9" fill="#585858" stroke="#585858" stroke-width="0.15" font-size="9.7" textLength="32.3" lengthAdjust="spacingAndGlyphs" class="ax">1680.00</text>
<line x1="6.2" y1="380" x2="6.2" y2="383" stroke="#555" stroke-width="1"/>
<text x="6.2" y="393" fill="#4f4f4f" font-size="9.8" text-anchor="middle" class="ax">2021</text>
<line x1="112.5" y1="380" x2="112.5" y2="383" stroke="#555" stroke-width="1"/>
<text x="112.5" y="393" fill="#4f4f4f" font-size="9.8" text-anchor="middle" class="ax">Feb</text>
<line x1="218.8" y1="380" x2="218.8" y2="383" stroke="#555" stroke-width="1"/>
<text x="218.8" y="393" fill="#4f4f4f" font-size="9.8" text-anchor="middle" class="ax">Mar</text>
<line x1="341.1" y1="380" x2="341.1" y2="383" stroke="#555" stroke-width="1"/>
<text x="341.1" y="393" fill="#4f4f4f" font-size="9.8" text-anchor="middle" class="ax">Apr</text>
<line x1="458.1" y1="380" x2="458.1" y2="383" stroke="#555" stroke-width="1"/>
<text x="458.1" y="393" fill="#4f4f4f" font-size="9.8" text-anchor="middle" class="ax">May</text>
<line x1="569.8" y1="380" x2="569.8" y2="383" stroke="#555" stroke-width="1"/>
<text x="569.8" y="393" fill="#4f4f4f" font-size="9.8" text-anchor="middle" class="ax">Jun</text>
<path d="M634 60.8 H676.3 Q678.3 60.8 678.3 62.8 V72.8 Q678.3 74.8 676.3 74.8 H634 Z" fill="#0000ff"/>
<line x1="634" y1="67.8" x2="638" y2="67.8" stroke="#ffffff" stroke-opacity="0.8" stroke-width="1"/>
<text x="641.9" y="71.3" fill="#ffffff" font-size="9.3" font-weight="bold" textLength="32.3" lengthAdjust="spacingAndGlyphs" class="ax">2008.55</text>
<path d="M634 163.8 H676.3 Q678.3 163.8 678.3 165.8 V175.8 Q678.3 177.8 676.3 177.8 H634 Z" fill="#0000ff"/>
<line x1="634" y1="170.8" x2="638" y2="170.8" stroke="#ffffff" stroke-opacity="0.8" stroke-width="1"/>
<text x="641.9" y="174.3" fill="#ffffff" font-size="9.3" font-weight="bold" textLength="32.3" lengthAdjust="spacingAndGlyphs" class="ax">1889.30</text>
<path d="M634 177.8 H676.3 Q678.3 177.8 678.3 179.8 V189.0 Q678.3 191.0 676.3 191.0 H634 Z" fill="#5a9e78"/>
<line x1="634" y1="184.0" x2="638" y2="184.0" stroke="#ffffff" stroke-opacity="0.8" stroke-width="1"/>
<text x="641.9" y="187.5" fill="#ffffff" font-size="9.3" font-weight="bold" textLength="32.3" lengthAdjust="spacingAndGlyphs" class="ax">1880.37</text>
<path d="M634 243.5 H676.3 Q678.3 243.5 678.3 245.5 V255.5 Q678.3 257.5 676.3 257.5 H634 Z" fill="#0000ff"/>
<line x1="634" y1="250.5" x2="638" y2="250.5" stroke="#ffffff" stroke-opacity="0.8" stroke-width="1"/>
<text x="641.9" y="254.0" fill="#ffffff" font-size="9.3" font-weight="bold" textLength="32.3" lengthAdjust="spacingAndGlyphs" class="ax">1807.17</text>
<path d="M634 295.9 H676.3 Q678.3 295.9 678.3 297.9 V307.8 Q678.3 309.8 676.3 309.8 H634 Z" fill="#0000ff"/>
<line x1="634" y1="302.8" x2="638" y2="302.8" stroke="#ffffff" stroke-opacity="0.8" stroke-width="1"/>
<text x="641.9" y="306.3" fill="#ffffff" font-size="9.3" font-weight="bold" textLength="32.3" lengthAdjust="spacingAndGlyphs" class="ax">1749.52</text>
<path d="M657.90 384.40 L659.55 386.73 L662.35 386.25 L661.87 389.05 L664.20 390.70 L661.87 392.35 L662.35 395.15 L659.55 394.67 L657.90 397.00 L656.25 394.67 L653.45 395.15 L653.93 392.35 L651.60 390.70 L653.93 389.05 L653.45 386.25 L656.25 386.73 Z M661.10 390.70 A3.2 3.2 0 1 0 654.70 390.70 A3.2 3.2 0 1 0 661.10 390.70 Z" fill="#2a2e39" fill-rule="evenodd"/>
</svg>
</body></html>
